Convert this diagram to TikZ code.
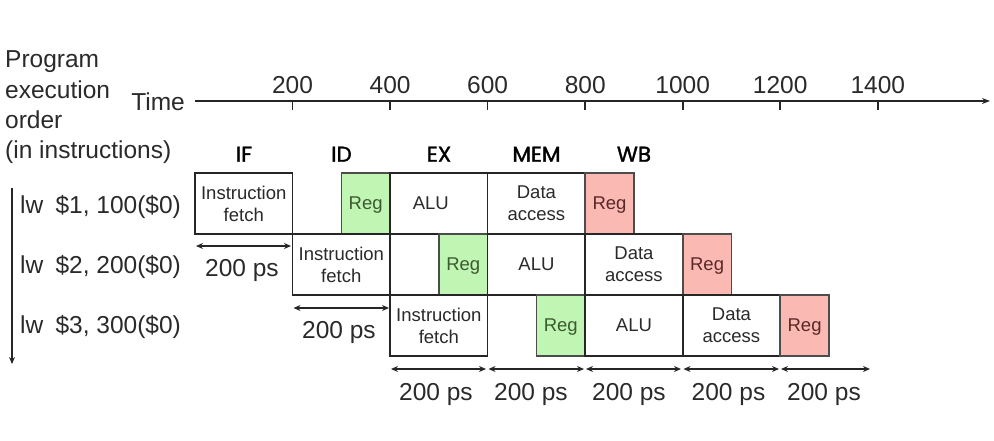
\documentclass[tikz,border=0pt]{standalone}
\usepackage{fontspec}
\setmainfont{Liberation Sans}
\newfontfamily\stagefont{Poppins}[FakeBold=1.6]
\usetikzlibrary{arrows.meta}
\definecolor{txt}{HTML}{2A2A2A}
\definecolor{regG}{HTML}{C0F5B4}
\definecolor{regR}{HTML}{FBB9B3}
\definecolor{regGtxt}{HTML}{3C5A30}
\definecolor{regRtxt}{HTML}{5A2828}
\tikzset{
  big/.style={font=\fontsize{24.5}{30}\selectfont, text=txt, inner sep=0pt},
  stagelbl/.style={font=\stagefont\fontsize{21.5}{25}\selectfont, text=black, inner sep=0pt, anchor=base},
  unit/.style={draw=black!85, line width=1.6pt, fill=white, minimum height=61pt,
    inner sep=0pt, outer sep=0pt, align=center, text=txt, text depth=0pt,
    font=\fontsize{18.5}{22}\selectfont},
  full/.style={unit, minimum width=97.5pt},
  half/.style={unit, minimum width=48.8pt},
  rgreen/.style={half, fill=regG, draw=black!70, text=regGtxt},
  rred/.style={half, fill=regR, draw=black!70, text=regRtxt},
  dim/.style={{Stealth[length=7pt,width=6pt]}-{Stealth[length=7pt,width=6pt]}, line width=1.4pt, black!85},
  axisline/.style={-{Stealth[length=8pt,width=6pt]}, line width=1.6pt, black!85},
  tick/.style={line width=1.6pt, black!85},
  ticklbl/.style={big, anchor=base}
}
\begin{document}
\begin{tikzpicture}[x=1pt,y=-1pt]
\useasboundingbox (0,0) rectangle (994,440);

% left labels
\node[big, anchor=base west] (prog) at (5,67) {Program};
\node[big, anchor=base west] (exec) at (5,98) {execution};
\node[big, anchor=base west] (ord) at (5,128) {order};
\node[big, anchor=base west] (inin) at (5,158) {(in instructions)};
\node[big, anchor=base east] (time) at (185,110) {Time};

% time axis
\coordinate (ax0) at (195,101);
\coordinate (ax1) at (990,101);
\draw[axisline] (ax0) -- (ax1);
\foreach \t/\xx in {200/292.5,400/390.1,600/487.6,800/585.2,1000/682.7,1200/780.2,1400/877.8}{
  \coordinate (tk\t) at (\xx,101);
  \draw[tick] (tk\t) -- ++(0,9);
  \node[ticklbl] (tl\t) at (\xx,93) {\t};
}

% stage labels
\node[stagelbl] (sIF) at (244,161.7) {IF};
\node[stagelbl] (sID) at (341.5,161.7) {ID};
\node[stagelbl] (sEX) at (439,161.7) {EX};
\node[stagelbl] (sMEM) at (536.5,161.7) {MEM};
\node[stagelbl] (sWB) at (634,161.7) {WB};

% program order arrow
\coordinate (ord0) at (12,188);
\coordinate (ord1) at (12,364);
\draw[-{Stealth[length=7pt,width=6pt]}, line width=1.4pt, black!85] (ord0) -- (ord1);

% instruction labels
\node[big, anchor=base west] (i1) at (20,213) {lw\hspace{0.5em}\$1, 100(\$0)};
\node[big, anchor=base west] (i2) at (20,273) {lw\hspace{0.5em}\$2, 200(\$0)};
\node[big, anchor=base west] (i3) at (20,333) {lw\hspace{0.5em}\$3, 300(\$0)};

% row 1
\node[full] (if1) at (243.75,203.5) {Instruction\\fetch};
\node[rgreen] (id1) at (365.7,203.5) {Reg};
\node[full] (ex1) at (438.85,203.5) {\hspace{-16pt}ALU};
\node[full] (mem1) at (536.4,203.5) {Data\\access};
\node[rred] (wb1) at (609.55,203.5) {Reg};

% row 2
\node[full] (if2) at (341.3,264.5) {Instruction\\fetch};
\node[rgreen] (id2) at (463.25,264.5) {Reg};
\node[full] (ex2) at (536.4,264.5) {ALU};
\node[full] (mem2) at (633.95,264.5) {Data\\access};
\node[rred] (wb2) at (707.1,264.5) {Reg};

% row 3
\node[full] (if3) at (438.85,325.5) {Instruction\\fetch};
\node[rgreen] (id3) at (560.8,325.5) {Reg};
\node[full] (ex3) at (633.95,325.5) {ALU};
\node[full] (mem3) at (731.45,325.5) {Data\\access};
\node[rred] (wb3) at (804.6,325.5) {Reg};

% dimension arrows
\coordinate (d1a) at (196,246); \coordinate (d1b) at (291,246);
\draw[dim] (d1a) -- (d1b);
\node[big, anchor=base] (p1) at (242,276.7) {200 ps};
\coordinate (d2a) at (293.5,308); \coordinate (d2b) at (389,308);
\draw[dim] (d2a) -- (d2b);
\node[big, anchor=base] (p2) at (339,338.3) {200 ps};

\foreach \a/\b/\c/\k in {391/486/436/a,488.5/584/531/b,586/681/629/c,683.5/779/728.5/d,781/870/824/e}{
  \coordinate (r\k0) at (\a,369);
  \coordinate (r\k1) at (\b,369);
  \draw[dim] (r\k0) -- (r\k1);
  \node[big, anchor=base] (rp\k) at (\c,400) {200 ps};
}
\end{tikzpicture}
\end{document}
